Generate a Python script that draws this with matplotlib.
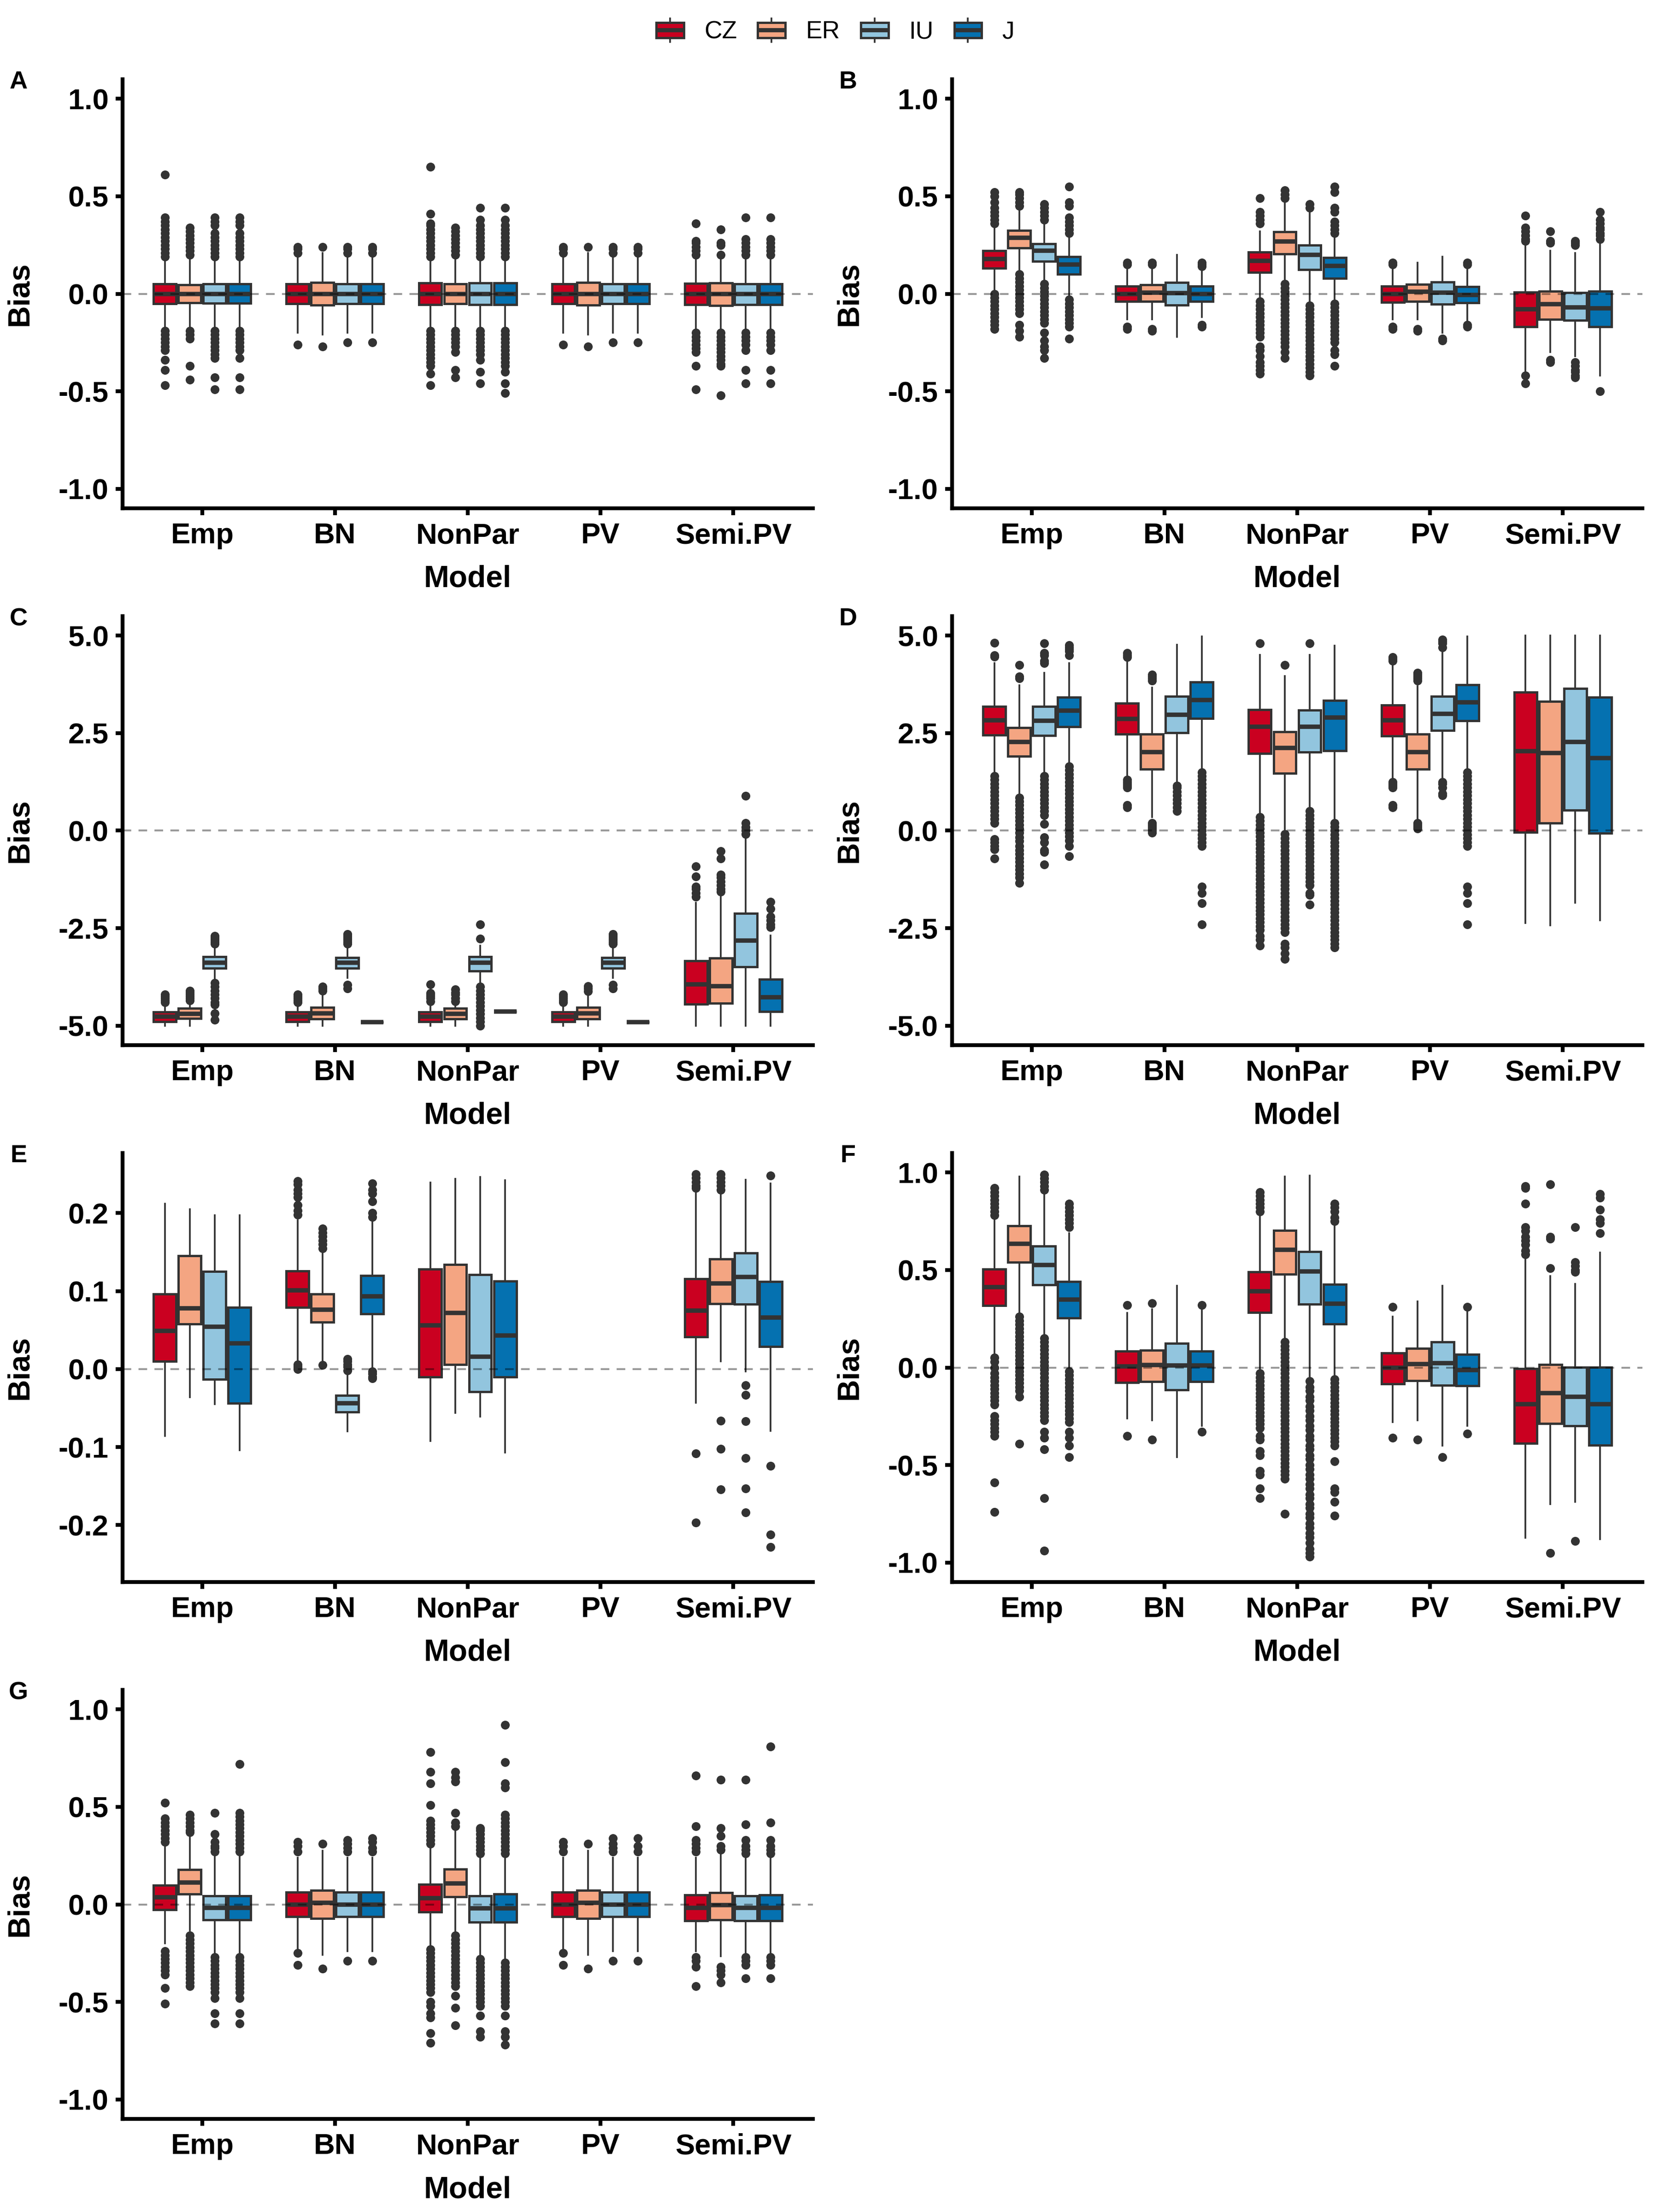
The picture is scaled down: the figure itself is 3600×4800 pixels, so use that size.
import matplotlib
matplotlib.use('Agg')
import matplotlib.pyplot as plt
from matplotlib.patches import Patch, Rectangle
from matplotlib.lines import Line2D
from matplotlib.legend_handler import HandlerBase
from matplotlib.ticker import FormatStrFormatter

plt.rcParams['font.family'] = ['Liberation Sans', 'DejaVu Sans']

groups = ['CZ', 'ER', 'IU', 'J']
models = ['Emp', 'BN', 'NonPar', 'PV', 'Semi.PV']
colors = ['#CA0020', '#F4A582', '#92C5DE', '#0571B0']
EDGE = '#333333'

# rows = models (Emp, BN, NonPar, PV, Semi.PV), columns = groups (CZ, ER, IU, J)
# ---------------- panel A ----------------
A_q1 = [[-0.05, -0.045, -0.048, -0.048], [-0.05, -0.058, -0.05, -0.05], [-0.055, -0.05, -0.055, -0.055],
        [-0.05, -0.058, -0.05, -0.05], [-0.055, -0.06, -0.055, -0.055]]
A_med = [[0.0, 0.0, 0.0, 0.0], [0.0, 0.0, 0.0, 0.0], [0.0, 0.0, 0.0, 0.0], [0.0, 0.0, 0.0, 0.0], [0.0, 0.0, 0.0, 0.0]]
A_q3 = [[0.05, 0.045, 0.05, 0.05], [0.05, 0.058, 0.05, 0.05], [0.055, 0.05, 0.055, 0.055],
        [0.05, 0.058, 0.05, 0.05], [0.052, 0.055, 0.05, 0.05]]
A_lo = [[-0.18, -0.18, -0.18, -0.18], [-0.2, -0.21, -0.2, -0.2], [-0.18, -0.18, -0.18, -0.18],
        [-0.2, -0.21, -0.2, -0.2], [-0.19, -0.19, -0.19, -0.19]]
A_hi = [[0.18, 0.18, 0.18, 0.18], [0.2, 0.21, 0.2, 0.2], [0.18, 0.19, 0.18, 0.18],
        [0.2, 0.21, 0.2, 0.2], [0.19, 0.19, 0.19, 0.19]]
A_out = [
    [[0.19, 0.21, 0.23, 0.25, 0.27, 0.29, 0.31, 0.33, 0.35, 0.37, 0.39, 0.61, -0.19, -0.21, -0.23, -0.25, -0.27, -0.29, -0.34, -0.39, -0.47],
     [0.2, 0.22, 0.24, 0.26, 0.28, 0.3, 0.32, 0.34, -0.19, -0.21, -0.23, -0.37, -0.44],
     [0.19, 0.21, 0.23, 0.25, 0.27, 0.29, 0.31, 0.35, 0.37, 0.39, -0.19, -0.21, -0.23, -0.25, -0.27, -0.29, -0.31, -0.33, -0.43, -0.49],
     [0.19, 0.21, 0.23, 0.25, 0.27, 0.29, 0.31, 0.35, 0.37, 0.39, -0.19, -0.21, -0.23, -0.25, -0.27, -0.29, -0.33, -0.43, -0.49]],
    [[0.21, 0.23, 0.24, -0.26], [0.24, -0.27], [0.21, 0.23, 0.24, -0.25], [0.21, 0.23, 0.24, -0.25]],
    [[0.19, 0.21, 0.23, 0.25, 0.27, 0.29, 0.31, 0.33, 0.35, 0.36, 0.41, 0.65, -0.19, -0.21, -0.23, -0.25, -0.27, -0.29, -0.31, -0.33, -0.35, -0.37, -0.41, -0.47],
     [0.2, 0.22, 0.24, 0.26, 0.28, 0.3, 0.32, 0.34, -0.19, -0.21, -0.23, -0.25, -0.27, -0.3, -0.39, -0.43],
     [0.19, 0.21, 0.23, 0.25, 0.27, 0.29, 0.31, 0.33, 0.35, 0.38, 0.44, -0.19, -0.21, -0.23, -0.25, -0.27, -0.29, -0.31, -0.34, -0.4, -0.46],
     [0.19, 0.21, 0.23, 0.25, 0.27, 0.29, 0.31, 0.33, 0.35, 0.38, 0.44, -0.19, -0.21, -0.23, -0.25, -0.27, -0.29, -0.31, -0.33, -0.35, -0.37, -0.4, -0.46, -0.51]],
    [[0.21, 0.23, 0.24, -0.26], [0.24, -0.27], [0.21, 0.23, 0.24, -0.25], [0.21, 0.23, 0.24, -0.25]],
    [[0.2, 0.22, 0.24, 0.26, 0.27, 0.36, -0.2, -0.22, -0.24, -0.26, -0.28, -0.3, -0.37, -0.49],
     [0.2, 0.25, 0.26, 0.33, -0.2, -0.22, -0.24, -0.26, -0.28, -0.3, -0.32, -0.34, -0.36, -0.37, -0.52],
     [0.2, 0.22, 0.24, 0.26, 0.28, 0.39, -0.2, -0.22, -0.24, -0.26, -0.29, -0.39, -0.46],
     [0.2, 0.22, 0.24, 0.26, 0.28, 0.39, -0.2, -0.22, -0.24, -0.26, -0.29, -0.39, -0.46]],
]

# ---------------- panel B ----------------
B_q1 = [[0.13, 0.234, 0.166, 0.10], [-0.04, -0.038, -0.059, -0.04], [0.109, 0.204, 0.123, 0.08],
        [-0.043, -0.038, -0.052, -0.047], [-0.168, -0.13, -0.137, -0.168]]
B_med = [[0.178, 0.287, 0.22, 0.15], [0.0, 0.005, 0.003, 0.0], [0.17, 0.268, 0.2, 0.144],
         [0.0, 0.01, 0.005, -0.005], [-0.078, -0.052, -0.07, -0.075]]
B_q3 = [[0.22, 0.324, 0.256, 0.19], [0.04, 0.045, 0.057, 0.04], [0.213, 0.317, 0.25, 0.185],
        [0.04, 0.048, 0.06, 0.036], [0.009, 0.014, 0.005, 0.014]]
B_lo = [[0.02, 0.12, 0.07, -0.01], [-0.13, -0.13, -0.22, -0.12], [-0.02, 0.07, -0.04, -0.03],
        [-0.13, -0.13, -0.2, -0.14], [-0.40, -0.30, -0.32, -0.42]]
B_hi = [[0.34, 0.43, 0.36, 0.29], [0.13, 0.13, 0.2, 0.13], [0.32, 0.47, 0.43, 0.29],
        [0.13, 0.16, 0.19, 0.13], [0.26, 0.22, 0.21, 0.26]]
B_out = [
    [[0.36, 0.38, 0.40, 0.42, 0.44, 0.47, 0.5, 0.52, 0.0, -0.02, -0.04, -0.06, -0.08, -0.1, -0.12, -0.14, -0.16, -0.18],
     [0.45, 0.47, 0.49, 0.51, 0.52, 0.1, 0.08, 0.06, 0.04, 0.02, 0.0, -0.02, -0.04, -0.06, -0.08, -0.1, -0.16, -0.19, -0.22],
     [0.38, 0.40, 0.42, 0.44, 0.46, 0.05, 0.03, 0.01, -0.01, -0.03, -0.05, -0.07, -0.09, -0.11, -0.13, -0.15, -0.2, -0.24, -0.27, -0.29, -0.33],
     [0.31, 0.33, 0.35, 0.37, 0.39, 0.45, 0.47, 0.55, -0.03, -0.05, -0.07, -0.09, -0.11, -0.13, -0.15, -0.17, -0.23]],
    [[0.15, 0.16, -0.17, -0.18], [0.15, 0.16, -0.18, -0.19], [], [0.14, 0.15, 0.16, -0.16, -0.17]],
    [[0.36, 0.38, 0.40, 0.42, 0.49, -0.04, -0.06, -0.08, -0.1, -0.12, -0.14, -0.16, -0.18, -0.2, -0.22, -0.27, -0.29, -0.32, -0.35, -0.37, -0.39, -0.41],
     [0.49, 0.51, 0.53, 0.05, 0.03, 0.01, -0.01, -0.03, -0.05, -0.07, -0.09, -0.11, -0.13, -0.15, -0.17, -0.19, -0.21, -0.23, -0.25, -0.27, -0.3, -0.33],
     [0.44, 0.46, -0.06, -0.08, -0.1, -0.12, -0.14, -0.16, -0.18, -0.2, -0.22, -0.24, -0.26, -0.28, -0.3, -0.32, -0.34, -0.36, -0.38, -0.4, -0.42],
     [0.31, 0.33, 0.35, 0.37, 0.42, 0.44, 0.52, 0.55, -0.05, -0.07, -0.09, -0.11, -0.13, -0.15, -0.17, -0.19, -0.21, -0.23, -0.25, -0.29, -0.31, -0.37]],
    [[0.15, 0.16, -0.17, -0.18], [-0.18, -0.19], [-0.23, -0.24], [0.15, 0.16, -0.16, -0.17]],
    [[0.27, 0.28, 0.30, 0.32, 0.34, 0.40, -0.42, -0.46],
     [0.26, 0.27, 0.32, -0.34, -0.35],
     [0.25, 0.26, 0.27, -0.35, -0.37, -0.39, -0.4, -0.42, -0.43],
     [0.28, 0.30, 0.31, 0.33, 0.34, 0.36, 0.38, 0.42, -0.50]],
]

# ---------------- panel C ----------------
C_q1 = [[-4.9, -4.81, -3.53, None], [-4.9, -4.83, -3.53, -4.91], [-4.9, -4.83, -3.6, -4.64],
        [-4.9, -4.83, -3.53, -4.91], [-4.45, -4.42, -3.49, -4.64]]
C_med = [[-4.77, -4.7, -3.38, None], [-4.77, -4.68, -3.38, -4.91], [-4.77, -4.7, -3.38, -4.64],
         [-4.77, -4.68, -3.38, -4.91], [-3.94, -3.99, -2.82, -4.27]]
C_q3 = [[-4.65, -4.55, -3.23, None], [-4.65, -4.53, -3.25, -4.91], [-4.65, -4.55, -3.23, -4.64],
        [-4.65, -4.53, -3.25, -4.91], [-3.34, -3.27, -2.12, -3.81]]
C_lo = [[-5.0, -5.0, -3.84, None], [-5.0, -5.0, -3.77, -4.91], [-5.0, -5.0, -3.94, -4.64],
        [-5.0, -5.0, -3.77, -4.91], [-5.0, -5.0, -5.0, -5.0]]
C_hi = [[-4.46, -4.45, -2.95, None], [-4.46, -4.2, -2.95, -4.91], [-4.46, -4.45, -2.95, -4.64],
        [-4.46, -4.2, -2.95, -4.91], [-1.85, -1.6, -0.17, -2.69]]
C_out = [
    [[-4.2, -4.25, -4.3, -4.35, -4.4], [-4.1, -4.15, -4.2, -4.25, -4.3, -4.35],
     [-2.7, -2.75, -2.8, -2.85, -2.9, -3.9, -4.0, -4.1, -4.2, -4.3, -4.4, -4.46, -4.68, -4.85], []],
    [[-4.2, -4.25, -4.3, -4.35, -4.4], [-4.0, -4.05, -4.1],
     [-2.65, -2.7, -2.75, -2.8, -2.85, -2.9, -3.95, -4.05], []],
    [[-3.94, -4.16, -4.2, -4.25, -4.3, -4.38], [-4.07, -4.15, -4.2, -4.3, -4.38],
     [-2.4, -2.77, -4.0, -4.1, -4.2, -4.3, -4.4, -4.5, -4.6, -4.7, -4.8, -4.9, -5.0], []],
    [[-4.2, -4.25, -4.3, -4.35, -4.4], [-3.99, -4.05, -4.12],
     [-2.65, -2.7, -2.75, -2.8, -2.85, -2.9, -3.95, -4.05], []],
    [[-0.91, -1.17, -1.43, -1.5, -1.6, -1.69], [-0.52, -0.72, -1.13, -1.2, -1.3, -1.4, -1.5, -1.56],
     [0.89, 0.2, 0.09, 0.0, -0.09], [-1.82, -2.0, -2.2, -2.3, -2.4, -2.47]],
]

# ---------------- panel D ----------------
D_q1 = [[2.45, 1.91, 2.44, 2.67], [2.47, 1.58, 2.51, 2.88], [1.98, 1.47, 2.02, 2.05],
        [2.43, 1.58, 2.57, 2.82], [-0.04, 0.2, 0.52, -0.06]]
D_med = [[2.83, 2.27, 2.82, 3.08], [2.86, 2.02, 2.97, 3.35], [2.66, 2.12, 2.66, 2.9],
         [2.83, 2.02, 3.0, 3.29], [2.04, 1.99, 2.28, 1.86]]
D_q3 = [[3.18, 2.64, 3.18, 3.42], [3.27, 2.47, 3.44, 3.81], [3.1, 2.54, 3.09, 3.34],
        [3.22, 2.47, 3.44, 3.74], [3.55, 3.32, 3.64, 3.42]]
D_lo = [[1.43, 0.87, 1.43, 1.69], [1.39, 0.35, 1.21, 1.56], [0.4, -0.04, 0.52, 0.22],
        [1.34, 0.26, 1.3, 1.56], [-2.37, -2.43, -1.85, -2.3]]
D_hi = [[4.29, 3.73, 4.05, 4.29], [4.4, 3.67, 4.77, 4.98], [4.51, 3.96, 4.51, 4.74],
        [4.29, 3.7, 4.68, 4.98], [5.0, 5.0, 5.0, 5.0]]
D_out = [
    [[4.46, 4.5, 4.81, 1.4, 1.3, 1.2, 1.1, 1.0, 0.9, 0.8, 0.7, 0.6, 0.5, 0.4, 0.3, 0.2, -0.22, -0.3, -0.4, -0.48, -0.72],
     [3.9, 3.95, 4.25, 0.84, 0.75, 0.65, 0.55, 0.45, 0.35, 0.25, 0.15, 0.05, -0.05, -0.17, -0.27, -0.4, -0.5, -0.6, -0.7, -0.8, -0.9, -1.0, -1.1, -1.2, -1.34],
     [4.3, 4.35, 4.5, 4.55, 4.8, 1.4, 1.3, 1.2, 1.1, 1.0, 0.9, 0.8, 0.7, 0.6, 0.5, 0.4, 0.17, -0.17, -0.3, -0.5, -0.55, -0.87],
     [4.5, 4.6, 4.65, 4.7, 4.75, 1.65, 1.55, 1.45, 1.35, 1.25, 1.15, 1.05, 0.95, 0.85, 0.75, 0.65, 0.55, 0.45, 0.35, 0.25, 0.15, 0.05, -0.05, -0.15, -0.25, -0.4, -0.65]],
    [[4.45, 4.5, 4.55, 1.1, 1.15, 1.2, 1.25, 1.3, 0.65, 0.6],
     [3.85, 3.9, 3.95, 4.0, 0.2, 0.15, 0.1, 0.05, 0.0, -0.05],
     [1.15, 1.1, 1.0, 0.9, 0.8, 0.7, 0.6, 0.5],
     [1.5, 1.4, 1.3, 1.2, 1.1, 1.0, 0.9, 0.8, 0.7, 0.6, 0.5, 0.4, 0.3, 0.2, 0.1, 0.0, -0.1, -0.2, -0.3, -0.4, -1.43, -1.6, -1.86, -2.4]],
    [[4.8, 0.35, 0.25, 0.15, 0.05, -0.05, -0.15, -0.25, -0.35, -0.45, -0.55, -0.65, -0.75, -0.85, -0.95, -1.05, -1.15, -1.25, -1.35, -1.45,
      -1.55, -1.65, -1.75, -1.85, -1.95, -2.05, -2.15, -2.25, -2.35, -2.45, -2.55, -2.7, -2.8, -2.95],
     [4.25, -0.09, -0.2, -0.3, -0.4, -0.5, -0.6, -0.7, -0.8, -0.9, -1.0, -1.1, -1.2, -1.3, -1.4, -1.5, -1.6, -1.7, -1.8, -1.9, -2.0,
      -2.1, -2.2, -2.3, -2.4, -2.5, -2.6, -2.9, -3.0, -3.15, -3.29],
     [4.8, 0.5, 0.4, 0.3, 0.2, 0.1, 0.0, -0.1, -0.2, -0.3, -0.4, -0.5, -0.6, -0.7, -0.8, -0.9, -1.0, -1.1, -1.2, -1.3, -1.4, -1.6, -1.65, -1.9],
     [0.2, 0.1, 0.0, -0.1, -0.2, -0.3, -0.4, -0.5, -0.6, -0.7, -0.8, -0.9, -1.0, -1.1, -1.2, -1.3, -1.4, -1.5, -1.6, -1.7, -1.8, -1.9,
      -2.0, -2.1, -2.2, -2.3, -2.4, -2.5, -2.6, -2.7, -2.8, -2.9, -3.0]],
    [[4.35, 4.4, 4.45, 1.1, 1.15, 1.2, 1.25, 0.65, 0.6],
     [3.85, 3.9, 3.95, 4.0, 4.05, 0.2, 0.15, 0.1, 0.05],
     [4.7, 4.8, 4.85, 4.9, 1.25, 1.2, 1.1, 0.95, 0.9],
     [1.5, 1.4, 1.3, 1.2, 1.1, 1.0, 0.9, 0.8, 0.7, 0.6, 0.5, 0.4, 0.3, 0.2, 0.1, 0.0, -0.1, -0.2, -0.3, -0.4, -1.43, -1.6, -1.86, -2.4]],
    [[], [], [], []],
]

# ---------------- panel E (no PV results) ----------------
E_q1 = [[0.01, 0.058, -0.013, -0.044], [0.079, 0.06, -0.055, 0.071], [-0.01, 0.006, -0.029, -0.01],
        [None, None, None, None], [0.041, 0.084, 0.083, 0.029]]
E_med = [[0.049, 0.078, 0.054, 0.033], [0.101, 0.076, -0.044, 0.093], [0.056, 0.072, 0.016, 0.043],
         [None, None, None, None], [0.075, 0.11, 0.118, 0.066]]
E_q3 = [[0.096, 0.145, 0.125, 0.079], [0.126, 0.096, -0.034, 0.12], [0.128, 0.134, 0.121, 0.113],
        [None, None, None, None], [0.116, 0.141, 0.149, 0.112]]
E_lo = [[-0.086, -0.036, -0.045, -0.104], [0.008, 0.01, -0.08, 0.0], [-0.092, -0.056, -0.061, -0.107],
        [None, None, None, None], [-0.043, 0.01, -0.003, -0.079]]
E_hi = [[0.212, 0.205, 0.197, 0.197], [0.191, 0.152, -0.004, 0.189], [0.239, 0.244, 0.246, 0.242],
        [None, None, None, None], [0.226, 0.226, 0.243, 0.238]]
E_out = [
    [[], [], [], []],
    [[0.198, 0.203, 0.21, 0.22, 0.225, 0.23, 0.237, 0.241, 0.006, 0.004, 0.002, 0.0],
     [0.155, 0.16, 0.165, 0.17, 0.175, 0.18, 0.005],
     [0.013, 0.01, 0.006, 0.003, -0.002],
     [0.195, 0.2, 0.215, 0.225, 0.23, 0.238, -0.003, -0.006, -0.01, -0.012]],
    [[], [], [], []],
    [[], [], [], []],
    [[0.232, 0.235, 0.24, 0.245, 0.25, -0.108, -0.197],
     [0.23, 0.235, 0.24, 0.245, 0.25, -0.066, -0.102, -0.154],
     [-0.021, -0.033, -0.067, -0.114, -0.153, -0.184],
     [0.248, -0.124, -0.212, -0.228]],
]

# ---------------- panel F ----------------
F_q1 = [[0.317, 0.539, 0.424, 0.253], [-0.076, -0.073, -0.114, -0.073], [0.282, 0.478, 0.326, 0.223],
        [-0.085, -0.068, -0.09, -0.094], [-0.388, -0.286, -0.3, -0.397]]
F_med = [[0.412, 0.634, 0.525, 0.348], [0.005, 0.014, 0.01, 0.01], [0.391, 0.604, 0.492, 0.327],
         [0.0, 0.017, 0.023, -0.012], [-0.189, -0.13, -0.15, -0.189]]
F_q3 = [[0.504, 0.726, 0.622, 0.44], [0.083, 0.088, 0.123, 0.083], [0.49, 0.703, 0.594, 0.426],
        [0.074, 0.097, 0.13, 0.068], [-0.007, 0.016, 0.002, 0.002]]
F_lo = [[0.07, 0.27, 0.158, -0.007], [-0.26, -0.27, -0.46, -0.3], [-0.015, 0.14, -0.06, -0.05],
        [-0.28, -0.27, -0.4, -0.3], [-0.873, -0.7, -0.69, -0.88]]
F_hi = [[0.755, 0.98, 0.9, 0.69], [0.28, 0.3, 0.42, 0.3], [0.786, 0.98, 0.985, 0.724],
        [0.26, 0.34, 0.42, 0.3], [0.556, 0.47, 0.43, 0.59]]
F_out = [
    [[0.78, 0.8, 0.82, 0.84, 0.86, 0.88, 0.9, 0.92, 0.05, 0.03, 0.0, -0.03, -0.05, -0.07, -0.09, -0.11, -0.13, -0.15, -0.17, -0.19,
      -0.25, -0.27, -0.29, -0.31, -0.33, -0.35, -0.59, -0.74],
     [0.26, 0.24, 0.22, 0.2, 0.18, 0.16, 0.14, 0.12, 0.1, 0.08, 0.06, 0.04, 0.02, 0.0, -0.02, -0.04, -0.06, -0.08, -0.1, -0.12, -0.15, -0.39],
     [0.91, 0.93, 0.95, 0.97, 0.99, 0.15, 0.13, 0.11, 0.09, 0.07, 0.05, 0.03, 0.01, -0.01, -0.03, -0.05, -0.07, -0.09, -0.11, -0.13,
      -0.15, -0.17, -0.19, -0.21, -0.23, -0.25, -0.27, -0.33, -0.36, -0.42, -0.67, -0.94],
     [0.72, 0.74, 0.76, 0.78, 0.8, 0.82, 0.84, -0.02, -0.04, -0.06, -0.08, -0.1, -0.12, -0.14, -0.16, -0.18, -0.2, -0.22, -0.24, -0.26,
      -0.28, -0.33, -0.36, -0.4, -0.46]],
    [[0.32, -0.35], [0.33, -0.37], [], [0.32, -0.33]],
    [[0.8, 0.82, 0.84, 0.86, 0.88, 0.9, -0.03, -0.05, -0.07, -0.09, -0.11, -0.13, -0.15, -0.17, -0.19, -0.21, -0.23, -0.25, -0.27, -0.29,
      -0.31, -0.35, -0.37, -0.43, -0.45, -0.53, -0.55, -0.62, -0.67],
     [0.13, 0.11, 0.09, 0.07, 0.05, 0.03, 0.01, -0.01, -0.03, -0.05, -0.07, -0.09, -0.11, -0.13, -0.15, -0.17, -0.19, -0.21, -0.23, -0.25,
      -0.27, -0.29, -0.31, -0.33, -0.35, -0.37, -0.39, -0.41, -0.43, -0.45, -0.47, -0.49, -0.51, -0.53, -0.55, -0.57, -0.75],
     [-0.07, -0.1, -0.12, -0.15, -0.17, -0.2, -0.22, -0.25, -0.27, -0.3, -0.32, -0.35, -0.37, -0.4, -0.42, -0.45, -0.47, -0.5, -0.52,
      -0.55, -0.57, -0.6, -0.62, -0.65, -0.67, -0.7, -0.72, -0.75, -0.77, -0.8, -0.82, -0.85, -0.87, -0.9, -0.93, -0.95, -0.97],
     [0.75, 0.77, 0.8, 0.82, 0.84, -0.06, -0.08, -0.1, -0.12, -0.14, -0.16, -0.18, -0.2, -0.22, -0.24, -0.26, -0.28, -0.3, -0.32, -0.34,
      -0.36, -0.38, -0.4, -0.48, -0.62, -0.64, -0.69, -0.76]],
    [[0.31, -0.36], [-0.37], [-0.46], [0.31, -0.34]],
    [[0.58, 0.6, 0.63, 0.65, 0.67, 0.7, 0.72, 0.84, 0.92, 0.93],
     [0.51, 0.66, 0.67, 0.94, -0.95],
     [0.49, 0.5, 0.52, 0.54, 0.72, -0.89],
     [0.69, 0.74, 0.76, 0.81, 0.87, 0.89]],
]

# ---------------- panel G ----------------
G_q1 = [[-0.027, 0.053, -0.08, -0.08], [-0.062, -0.071, -0.062, -0.062], [-0.039, 0.039, -0.092, -0.092],
        [-0.062, -0.071, -0.062, -0.062], [-0.084, -0.08, -0.085, -0.084]]
G_med = [[0.036, 0.112, -0.018, -0.018], [0.0, 0.009, 0.0, 0.0], [0.032, 0.107, -0.021, -0.021],
         [0.0, 0.009, 0.0, 0.0], [-0.018, -0.004, -0.018, -0.018]]
G_q3 = [[0.098, 0.178, 0.044, 0.044], [0.062, 0.071, 0.062, 0.062], [0.103, 0.181, 0.044, 0.053],
        [0.062, 0.071, 0.062, 0.062], [0.048, 0.06, 0.044, 0.048]]
G_lo = [[-0.2, -0.133, -0.258, -0.258], [-0.24, -0.258, -0.24, -0.24], [-0.222, -0.15, -0.276, -0.29],
        [-0.24, -0.258, -0.24, -0.24], [-0.24, -0.267, -0.258, -0.258]]
G_hi = [[0.3, 0.356, 0.267, 0.267], [0.24, 0.276, 0.24, 0.24], [0.293, 0.382, 0.25, 0.25],
        [0.24, 0.276, 0.24, 0.24], [0.24, 0.267, 0.24, 0.24]]
G_out = [
    [[0.32, 0.34, 0.36, 0.38, 0.4, 0.42, 0.44, 0.52, -0.24, -0.26, -0.28, -0.3, -0.32, -0.34, -0.36, -0.43, -0.51],
     [0.37, 0.38, 0.4, 0.42, 0.44, 0.46, -0.16, -0.18, -0.2, -0.22, -0.24, -0.26, -0.28, -0.3, -0.32, -0.34, -0.36, -0.38, -0.4, -0.42],
     [0.27, 0.29, 0.3, 0.32, 0.36, 0.47, -0.27, -0.29, -0.31, -0.33, -0.35, -0.37, -0.39, -0.41, -0.43, -0.45, -0.48, -0.56, -0.61],
     [0.27, 0.29, 0.31, 0.33, 0.35, 0.37, 0.39, 0.41, 0.43, 0.45, 0.47, 0.72, -0.27, -0.29, -0.31, -0.33, -0.35, -0.37, -0.39, -0.41,
      -0.43, -0.45, -0.48, -0.56, -0.61]],
    [[0.27, 0.3, 0.32, -0.25, -0.31], [0.31, -0.33], [0.27, 0.29, 0.31, 0.33, -0.29], [0.27, 0.29, 0.32, 0.34, -0.29]],
    [[0.31, 0.33, 0.35, 0.37, 0.39, 0.41, 0.43, 0.51, 0.62, 0.68, 0.78, -0.23, -0.25, -0.27, -0.29, -0.31, -0.33, -0.35, -0.37, -0.39,
      -0.41, -0.43, -0.45, -0.5, -0.52, -0.56, -0.58, -0.66, -0.71],
     [0.4, 0.42, 0.47, 0.63, 0.65, 0.68, -0.16, -0.18, -0.2, -0.22, -0.24, -0.26, -0.28, -0.3, -0.32, -0.34, -0.36, -0.38, -0.4, -0.42,
      -0.47, -0.53, -0.62],
     [0.26, 0.28, 0.3, 0.32, 0.34, 0.36, 0.38, 0.39, -0.28, -0.3, -0.32, -0.34, -0.36, -0.38, -0.4, -0.42, -0.44, -0.46, -0.48, -0.5,
      -0.52, -0.57, -0.65, -0.68],
     [0.26, 0.28, 0.3, 0.32, 0.34, 0.36, 0.38, 0.4, 0.42, 0.44, 0.46, 0.6, 0.62, 0.73, 0.92, -0.3, -0.32, -0.34, -0.36, -0.38, -0.4,
      -0.42, -0.44, -0.46, -0.48, -0.5, -0.52, -0.57, -0.65, -0.68, -0.72]],
    [[0.27, 0.3, 0.32, -0.25, -0.31], [0.31, -0.33], [0.27, 0.29, 0.31, 0.34, -0.29], [0.27, 0.3, 0.34, -0.29]],
    [[0.27, 0.29, 0.31, 0.33, 0.4, 0.66, -0.27, -0.29, -0.32, -0.42],
     [0.28, 0.3, 0.35, 0.39, 0.64, -0.32, -0.34, -0.36, -0.4],
     [0.26, 0.28, 0.3, 0.33, 0.41, 0.64, -0.27, -0.29, -0.31, -0.38],
     [0.26, 0.28, 0.3, 0.33, 0.42, 0.81, -0.27, -0.29, -0.31, -0.38]],
]

ticks_unit = [-1.0, -0.5, 0.0, 0.5, 1.0]
ticks_five = [-5.0, -2.5, 0.0, 2.5, 5.0]
ticks_small = [-0.2, -0.1, 0.0, 0.1, 0.2]

# (letter, data..., ylim, yticks, column, row)
panels = [
    ('A', A_q1, A_med, A_q3, A_lo, A_hi, A_out, (-1.1, 1.1), ticks_unit, 0, 0),
    ('B', B_q1, B_med, B_q3, B_lo, B_hi, B_out, (-1.1, 1.1), ticks_unit, 1, 0),
    ('C', C_q1, C_med, C_q3, C_lo, C_hi, C_out, (-5.5, 5.5), ticks_five, 0, 1),
    ('D', D_q1, D_med, D_q3, D_lo, D_hi, D_out, (-5.5, 5.5), ticks_five, 1, 1),
    ('E', E_q1, E_med, E_q3, E_lo, E_hi, E_out, (-0.273, 0.277), ticks_small, 0, 2),
    ('F', F_q1, F_med, F_q3, F_lo, F_hi, F_out, (-1.1, 1.1), ticks_unit, 1, 2),
    ('G', G_q1, G_med, G_q3, G_lo, G_hi, G_out, (-1.1, 1.1), ticks_unit, 0, 3),
]

OFFSETS = [-0.28125, -0.09375, 0.09375, 0.28125]
W_PX, H_PX = 3600, 4800
ROW_STEP = 1165


class BoxKey(HandlerBase):
    """legend key that looks like a small boxplot"""
    def create_artists(self, legend, orig_handle, xdescent, ydescent, width, height, fontsize, trans):
        fc = orig_handle.get_facecolor()
        x0, y_base = -xdescent, -ydescent
        cx = x0 + width / 2
        bh = height * 0.64
        y0 = y_base + (height - bh) / 2
        w1 = Line2D([cx, cx], [y_base, y0], color=EDGE, lw=0.9, transform=trans)
        w2 = Line2D([cx, cx], [y0 + bh, y_base + height], color=EDGE, lw=0.9, transform=trans)
        rect = Rectangle((x0, y0), width, bh, facecolor=fc, edgecolor=EDGE, lw=1.2, transform=trans)
        med = Line2D([x0, x0 + width], [y0 + bh / 2] * 2, color=EDGE, lw=2.2,
                     solid_capstyle='butt', transform=trans)
        return [w1, w2, rect, med]


def draw_panel(ax, q1, med, q3, lo, hi, out, ylim, yticks):
    for m in range(len(models)):
        for g in range(len(groups)):
            if med[m][g] is None:
                continue
            st = dict(q1=q1[m][g], med=med[m][g], q3=q3[m][g],
                      whislo=lo[m][g], whishi=hi[m][g], fliers=out[m][g])
            ax.bxp([st], positions=[m + 1 + OFFSETS[g]], widths=0.17, patch_artist=True,
                   showcaps=False, manage_ticks=False,
                   boxprops=dict(facecolor=colors[g], edgecolor=EDGE, linewidth=1.2),
                   medianprops=dict(color=EDGE, linewidth=2.3, solid_capstyle='butt'),
                   whiskerprops=dict(color=EDGE, linewidth=0.9),
                   flierprops=dict(marker='o', markerfacecolor=EDGE, markeredgecolor='none',
                                   markersize=4.6))
    ax.axhline(0, color='black', alpha=0.4, lw=1.0, ls=(0, (4.5, 3.8)), zorder=5)

    ax.set_xlim(0.4, 5.6)
    ax.set_ylim(*ylim)
    ax.set_xticks(range(1, len(models) + 1))
    ax.set_xticklabels(models, fontweight='bold')
    ax.set_yticks(yticks)
    ax.yaxis.set_major_formatter(FormatStrFormatter('%.1f'))
    for lab in ax.get_yticklabels():
        lab.set_fontweight('bold')
    ax.spines['top'].set_visible(False)
    ax.spines['right'].set_visible(False)
    for s in ('left', 'bottom'):
        ax.spines[s].set_linewidth(2.0)
        ax.spines[s].set_color('black')
        ax.spines[s].set_capstyle('projecting')
    ax.tick_params(axis='both', width=2.0, length=3.6, pad=3.7, labelsize=15.2,
                   colors='black', direction='out')
    ax.set_xlabel('Model', fontsize=15.8, fontweight='bold', va='center')
    ax.set_ylabel('Bias', fontsize=15.8, fontweight='bold', va='center')
    ax.xaxis.set_label_coords(0.5, -154 / 931)
    ax.yaxis.set_label_coords(-223 / 1498, 0.5)


fig = plt.figure(figsize=(12, 16), dpi=300)

for letter, q1, med, q3, lo, hi, out, ylim, yticks, col, row in panels:
    left_px = 266 + col * 1800
    bottom_px = 1103 + row * ROW_STEP
    ax = fig.add_axes([left_px / W_PX, 1 - bottom_px / H_PX, 1498 / W_PX, 931 / H_PX])
    draw_panel(ax, q1, med, q3, lo, hi, out, ylim, yticks)
    fig.text((40 + col * 1800) / W_PX, 1 - (178 + row * ROW_STEP) / H_PX, letter,
             fontsize=13, fontweight='bold', ha='center', va='center')

handles = [Patch(facecolor=c) for c in colors]
fig.legend(handles, groups, handler_map={Patch: BoxKey()}, loc='center',
           bbox_to_anchor=(0.5035, 1 - 67 / H_PX), ncol=4, frameon=False, fontsize=12.8,
           handlelength=1.12, handleheight=1.1, handletextpad=0.83, columnspacing=0.85)

fig.savefig('out.png', dpi=300, facecolor='white')
